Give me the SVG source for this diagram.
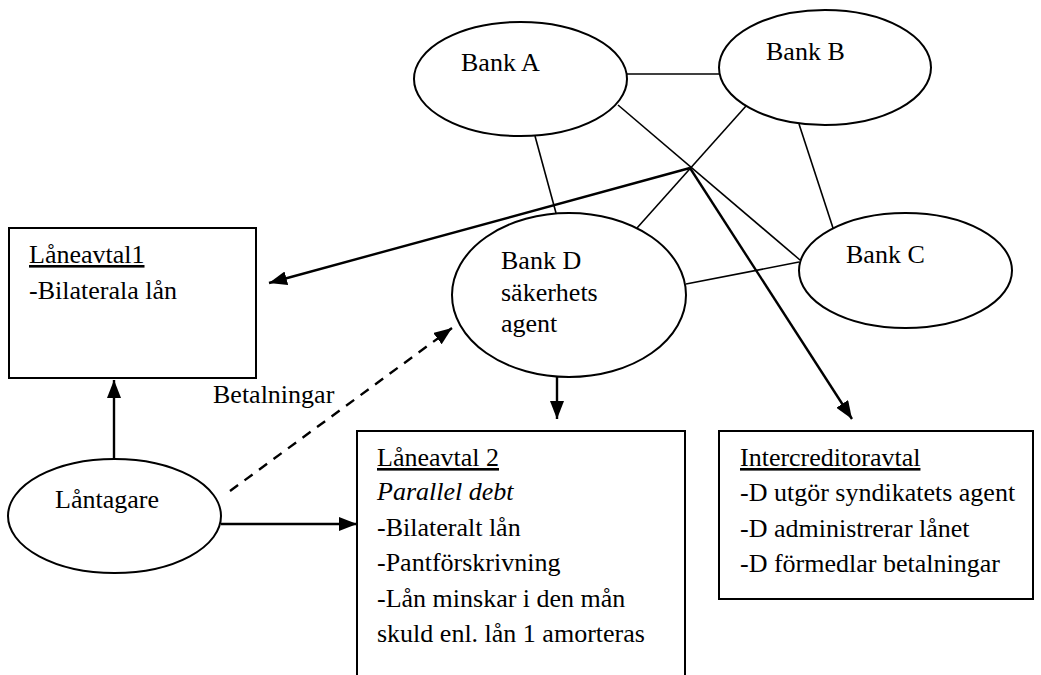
<svg xmlns="http://www.w3.org/2000/svg" width="1041" height="675" viewBox="0 0 1041 675">
<defs>
<marker id="ah" viewBox="0 0 10 10" refX="10" refY="5" markerWidth="7" markerHeight="7" markerUnits="userSpaceOnUse" orient="auto">
<path d="M0,0 L10,5 L0,10 z" fill="#000"/>
</marker>
<marker id="ahb" viewBox="0 0 10 10" refX="10" refY="5" markerWidth="18" markerHeight="14" markerUnits="userSpaceOnUse" orient="auto" preserveAspectRatio="none">
<path d="M0,0 L10,5 L0,10 z" fill="#000"/>
</marker>
<style>
text{font-family:"Liberation Serif","Times New Roman",serif;font-size:26px;fill:#000}
.u{text-decoration:underline}
.i{font-style:italic}
.shape{fill:#fff;stroke:#000;stroke-width:2}
.ln{stroke:#000;stroke-width:1.6;fill:none}
.arr{stroke:#000;stroke-width:2.4;fill:none;marker-end:url(#ahb)}
.dash{stroke:#000;stroke-width:2.4;fill:none;stroke-dasharray:10,8;marker-end:url(#ahb)}
</style>
</defs>
<rect width="1041" height="675" fill="#fff"/>
<g id="connectors">
<line class="ln" x1="627" y1="74" x2="719" y2="74"/>
<line class="ln" x1="535" y1="136" x2="556" y2="213"/>
<line class="ln" x1="618" y1="105" x2="800" y2="260"/>
<line class="ln" x1="746" y1="106" x2="637" y2="228"/>
<line class="ln" x1="799" y1="124" x2="833" y2="228"/>
<line class="ln" x1="686" y1="284" x2="799" y2="262"/>
<line class="arr" x1="690" y1="168" x2="269" y2="283"/>
<line class="arr" x1="690" y1="168" x2="852" y2="419"/>
<line class="arr" x1="557" y1="377" x2="557" y2="419"/>
<line class="arr" x1="114" y1="459" x2="114" y2="380"/>
<line class="arr" x1="221" y1="524" x2="357" y2="524"/>
<line class="dash" x1="230" y1="491" x2="452" y2="328"/>
<text x="213" y="403">Betalningar</text>
</g>
<g id="bankA">
<ellipse class="shape" cx="520.5" cy="79" rx="106.5" ry="57"/>
<text x="461" y="71">Bank A</text>
</g>
<g id="bankB">
<ellipse class="shape" cx="825" cy="67.5" rx="106" ry="57.5"/>
<text x="766" y="60">Bank B</text>
</g>
<g id="bankC">
<ellipse class="shape" cx="905.5" cy="270.5" rx="106.5" ry="57.5"/>
<text x="846" y="263">Bank C</text>
</g>
<g id="bankD">
<ellipse class="shape" cx="569" cy="295" rx="117" ry="82"/>
<text x="501" y="269">Bank D</text>
<text x="501" y="301">säkerhets</text>
<text x="501" y="332">agent</text>
</g>
<g id="laneavtal1">
<rect class="shape" x="9" y="228" width="247" height="150"/>
<text x="29" y="263" class="u">Låneavtal1</text>
<text x="29" y="299">-Bilaterala lån</text>
</g>
<g id="lantagare">
<ellipse class="shape" cx="114.5" cy="516" rx="106.5" ry="57"/>
<text x="55" y="508">Låntagare</text>
</g>
<g id="laneavtal2">
<rect class="shape" x="357" y="431" width="328" height="260"/>
<text x="377" y="466" class="u">Låneavtal 2</text>
<text x="377" y="500" class="i">Parallel debt</text>
<text x="377" y="536">-Bilateralt lån</text>
<text x="377" y="571">-Pantförskrivning</text>
<text x="377" y="607">-Lån minskar i den mån</text>
<text x="377" y="642">skuld enl. lån 1 amorteras</text>
</g>
<g id="intercreditor">
<rect class="shape" x="719" y="431" width="314" height="168"/>
<text x="740" y="466" class="u">Intercreditoravtal</text>
<text x="740" y="501">-D utgör syndikatets agent</text>
<text x="740" y="537">-D administrerar lånet</text>
<text x="740" y="572">-D förmedlar betalningar</text>
</g>
</svg>
